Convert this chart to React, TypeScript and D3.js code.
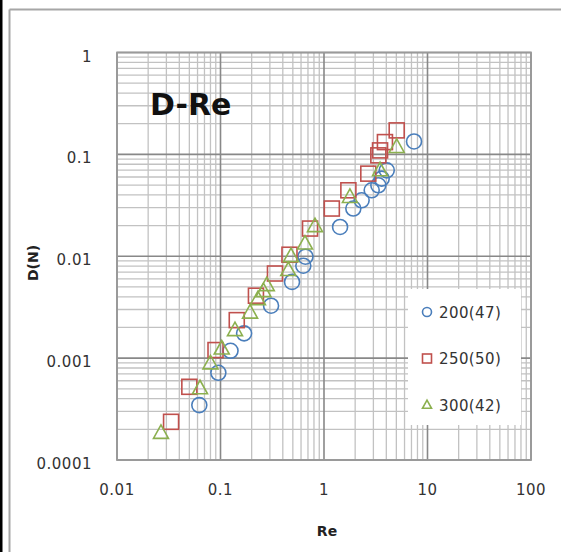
import React from "react";
import * as d3 from "d3";

const xTicks = [0.01, 0.1, 1, 10, 100];
const yTicks = [1, 0.1, 0.01, 0.001, 0.0001];
const xTickLabels = ["0.01", "0.1", "1", "10", "100"];
const yTickLabels = ["1", "0.1", "0.01", "0.001", "0.0001"];

const re200 = [0.0624, 0.0953, 0.125, 0.169, 0.308, 0.491, 0.631, 0.662, 1.43, 1.92, 2.31, 2.89, 3.35, 3.61, 4.04, 7.41];
const d200 = [0.000346, 0.000718, 0.00118, 0.00175, 0.00327, 0.0056, 0.00807, 0.00989, 0.0194, 0.0294, 0.0354, 0.0444, 0.0497, 0.0578, 0.0697, 0.134];

const re250 = [0.0333, 0.05, 0.0895, 0.1436, 0.22, 0.336, 0.464, 0.733, 1.19, 1.72, 2.68, 3.35, 3.48, 3.88, 5.04];
const d250 = [0.000237, 0.000523, 0.0012, 0.00236, 0.0041, 0.00677, 0.01035, 0.0187, 0.0294, 0.0444, 0.0647, 0.0978, 0.1094, 0.132, 0.172];

const re300 = [0.0266, 0.0634, 0.08, 0.1028, 0.138, 0.193, 0.23, 0.26, 0.28, 0.452, 0.48, 0.655, 0.818, 1.78, 3.48, 5.04];
const d300 = [0.000184, 0.000505, 0.000887, 0.00124, 0.00188, 0.00279, 0.00379, 0.00454, 0.0052, 0.0073, 0.01, 0.0133, 0.0197, 0.0381, 0.0697, 0.118];

const seriesNames = ["200(47)", "250(50)", "300(42)"];
const seriesColors = ["#4a7ebb", "#c0504d", "#8cb04f"];

const W = 561;
const H = 552;
const plot = { left: 117, right: 531, top: 52.5, bottom: 460 };
const FONT = "'DejaVu Sans', Verdana, sans-serif";

function Marker({ kind, x, y, s, color, sw }: { kind: number; x: number; y: number; s: number; color: string; sw: number }) {
  if (kind === 0) return <circle cx={x} cy={y} r={s / 2} fill="none" stroke={color} strokeWidth={sw} />;
  if (kind === 1) return <rect x={x - s / 2} y={y - s / 2} width={s} height={s} fill="none" stroke={color} strokeWidth={sw} />;
  const h = s * 0.9;
  const p = d3.path();
  p.moveTo(x, y - h * 0.6);
  p.lineTo(x + s / 2, y + h * 0.4);
  p.lineTo(x - s / 2, y + h * 0.4);
  p.closePath();
  return <path d={p.toString()} fill="none" stroke={color} strokeWidth={sw} strokeLinejoin="miter" />;
}

export default function App() {
  const x = d3.scaleLog().domain([0.01, 100]).range([plot.left, plot.right]);
  const y = d3.scaleLog().domain([0.0001, 1]).range([plot.bottom, plot.top]);

  const minorX: number[] = [];
  const minorY: number[] = [];
  for (let e = -2; e < 2; e++) for (let m = 2; m <= 9; m++) minorX.push(m * Math.pow(10, e));
  for (let e = -4; e < 0; e++) for (let m = 2; m <= 9; m++) minorY.push(m * Math.pow(10, e));

  const series = [
    { re: re200, d: d200 },
    { re: re250, d: d250 },
    { re: re300, d: d300 },
  ];

  const legend = { x: 408, y: 289, w: 113, h: 136 };

  return (
    <svg width={W} height={H} style={{ position: "absolute", left: 0, top: 0, background: "#fff" }}>
      <rect x={0} y={0} width={W} height={H} fill="#fff" />
      <rect x={0} y={0} width={2.5} height={H} fill="#000" />
      <line x1={9.5} y1={9.5} x2={W} y2={9.5} stroke="#a6a6a6" strokeWidth={2} />
      <line x1={9.5} y1={9.5} x2={9.5} y2={H} stroke="#a6a6a6" strokeWidth={2} />

      {minorX.map((v, i) => (
        <line key={"mx" + i} x1={x(v)} x2={x(v)} y1={plot.top} y2={plot.bottom} stroke="#c2c2c2" strokeWidth={1.3} />
      ))}
      {minorY.map((v, i) => (
        <line key={"my" + i} y1={y(v)} y2={y(v)} x1={plot.left} x2={plot.right} stroke="#c2c2c2" strokeWidth={1.3} />
      ))}
      {xTicks.map((v, i) => (
        <line key={"Mx" + i} x1={x(v)} x2={x(v)} y1={plot.top} y2={plot.bottom} stroke="#888" strokeWidth={1.6} />
      ))}
      {yTicks.map((v, i) => (
        <line key={"My" + i} y1={y(v)} y2={y(v)} x1={plot.left} x2={plot.right} stroke="#888" strokeWidth={1.6} />
      ))}
      <rect x={plot.left} y={plot.top} width={plot.right - plot.left} height={plot.bottom - plot.top} fill="none" stroke="#9a9a9a" strokeWidth={1.8} />

      {xTicks.map((v, i) => (
        <text key={"xl" + i} x={x(v)} y={plot.bottom + 35} textAnchor="middle" fontFamily={FONT} fontSize={15} letterSpacing={0.5} fill="#333">
          {xTickLabels[i]}
        </text>
      ))}
      {yTicks.map((v, i) => (
        <text key={"yl" + i} x={92} y={y(v) + 9} textAnchor="end" fontFamily={FONT} fontSize={15} letterSpacing={0.5} fill="#333">
          {yTickLabels[i]}
        </text>
      ))}

      <text x={327} y={536} textAnchor="middle" fontFamily={FONT} fontSize={14} fontWeight="bold" fill="#222">Re</text>
      <text transform="translate(38,263) rotate(-90)" textAnchor="middle" fontFamily={FONT} fontSize={14} fontWeight="bold" fill="#222">D(N)</text>
      <text x={150} y={115} fontFamily={FONT} fontSize={30} fontWeight="bold" fill="#111">D-Re</text>

      {series.map((s, si) =>
        s.re.map((r, i) => (
          <Marker key={si + "-" + i} kind={si} x={x(r)} y={y(s.d[i])} s={15} color={seriesColors[si]} sw={1.6} />
        ))
      )}

      <rect x={legend.x} y={legend.y} width={legend.w} height={legend.h} fill="#fff" />
      {seriesNames.map((n, i) => (
        <g key={"lg" + i}>
          <Marker kind={i} x={427} y={312 + i * 46.5} s={9} color={seriesColors[i]} sw={1.6} />
          <text x={439} y={317.5 + i * 46.5} fontFamily={FONT} fontSize={15} letterSpacing={0.4} fill="#333">{n}</text>
        </g>
      ))}
    </svg>
  );
}
